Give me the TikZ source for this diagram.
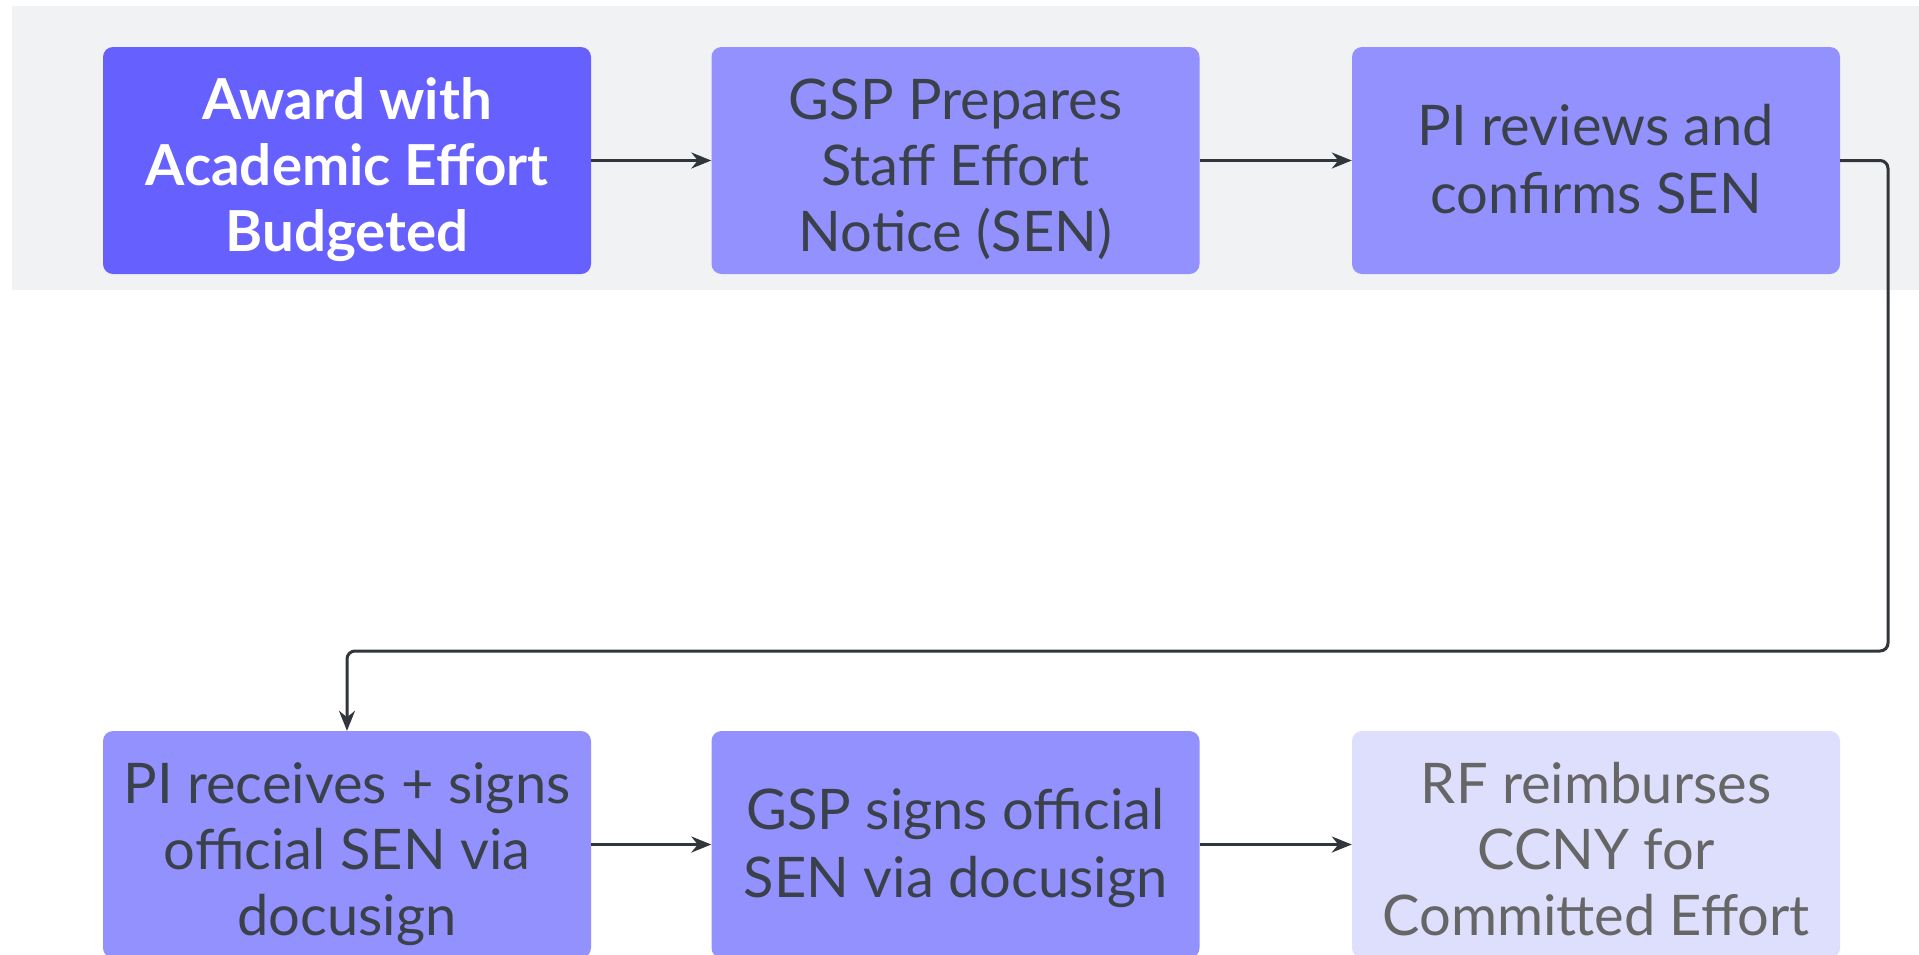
\documentclass[tikz,border=0pt]{standalone}
\usepackage{fontspec}
\setmainfont{Lato}
\usetikzlibrary{arrows.meta}
\definecolor{bgband}{HTML}{F1F2F4}
\definecolor{dark}{HTML}{6660FF}
\definecolor{mid}{HTML}{9391FD}
\definecolor{light}{HTML}{DEDEFD}
\definecolor{txt}{HTML}{3A414A}
\definecolor{txtgrey}{HTML}{666666}
\definecolor{lineclr}{HTML}{31363D}
% invisible struts fixing the vertical placement of the text block
\newcommand{\upthree}{\rule{0pt}{65pt}}
\newcommand{\upthreeb}{\rule{0pt}{65pt}}
\newcommand{\uptwo}{\rule{0pt}{53.5pt}}
\newcommand{\downend}{\rule[-16pt]{0pt}{16pt}}
\tikzset{
  box/.style={rectangle, rounded corners=10pt, minimum width=488pt, minimum height=227pt,
    inner sep=0pt, align=center, text=txt, fill=mid},
  threelines/.style={font=\fontsize{56}{66}\selectfont},
  twolines/.style={font=\fontsize{56}{68.5}\selectfont},
  startbox/.style={box, fill=dark, text=white, font=\fontsize{56.5}{66}\selectfont\bfseries},
  endbox/.style={box, fill=light, text=txtgrey},
  arr/.style={draw=lineclr, line width=3pt, -{Stealth[length=20pt,width=16pt]}}
}
\begin{document}
\begin{tikzpicture}[x=1pt,y=-1pt]
\useasboundingbox (0,0) rectangle (1919,954);
\clip (0,0) rectangle (1919,954);
\fill[white] (0,0) rectangle (1919,954);
\fill[bgband] (12,6) rectangle (1919,290);
\node[startbox] (b1) at (347,160.5) {\upthreeb Award with\\Academic Effort\\Budgeted\downend};
\node[box, threelines] (b2) at (955.5,160.5) {\upthree GSP Prepares\\Staff Effort\\Notice (SEN)\downend};
\node[box, twolines] (b3) at (1596,160.5) {\uptwo PI reviews and\\confirms SEN\downend};
\node[box, threelines] (b4) at (347,844.5) {\upthree PI receives + signs\\official SEN via\\docusign\downend};
\node[box, twolines] (b5) at (955.5,844.5) {\uptwo GSP signs official\\SEN via docusign\downend};
\node[endbox, threelines] (b6) at (1596,844.5) {\upthree RF reimburses\\CCNY for\\Committed Effort\downend};
\coordinate (c1) at (1888,651);
\draw[arr] (b1.east) -- (b2.west);
\draw[arr] (b2.east) -- (b3.west);
\draw[arr, rounded corners=8pt] (b3.east) -| (c1) -| (b4.north);
\draw[arr] (b4.east) -- (b5.west);
\draw[arr] (b5.east) -- (b6.west);
\end{tikzpicture}
\end{document}
